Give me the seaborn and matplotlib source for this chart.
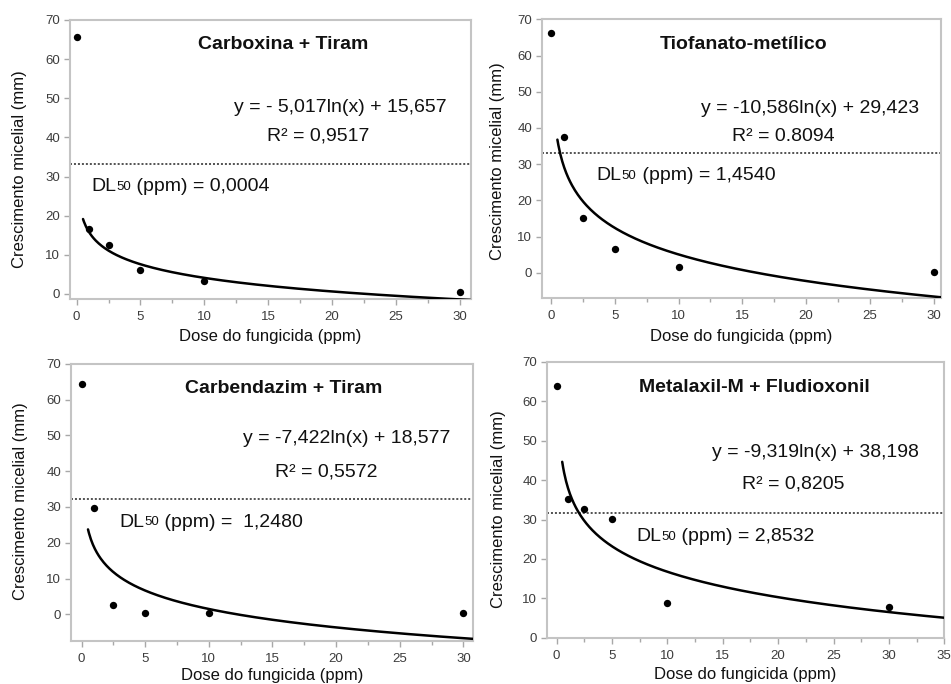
import numpy as np
import pandas as pd
import seaborn as sns
import matplotlib
matplotlib.use("Agg")
import matplotlib.pyplot as plt
from matplotlib.ticker import MultipleLocator

# ---------------- data ----------------
titles = ["Carboxina + Tiram", "Tiofanato-metílico",
          "Carbendazim + Tiram", "Metalaxil-M + Fludioxonil"]
doses = [0, 1, 2.5, 5, 10, 30]
growth_carboxina = [65.6, 16.5, 12.4, 6.0, 3.3, 0.4]
growth_tiofanato = [66.3, 37.4, 15.1, 6.5, 1.7, 0.2]
growth_carbendazim = [64.4, 29.7, 2.7, 0.3, 0.3, 0.3]
growth_metalaxil = [63.8, 35.1, 32.6, 30.1, 8.9, 7.9]
slopes = [-5.017, -10.586, -7.422, -9.319]
intercepts = [15.657, 29.423, 18.577, 38.198]
half_growth = [33.2, 33.1, 32.3, 31.7]
equations = ["y = - 5,017ln(x) + 15,657", "y = -10,586ln(x) + 29,423",
             "y = -7,422ln(x) + 18,577", "y = -9,319ln(x) + 38,198"]
r2_labels = ["R² = 0,9517", "R² = 0.8094", "R² = 0,5572", "R² = 0,8205"]
dl50_values = ["0,0004", "1,4540", " 1,2480", "2,8532"]
x_tick_max = [30, 30, 30, 35]
y_ticks = [0, 10, 20, 30, 40, 50, 60, 70]
xlabel = "Dose do fungicida (ppm)"
ylabel = "Crescimento micelial (mm)"

growths = [growth_carboxina, growth_tiofanato, growth_carbendazim, growth_metalaxil]

# ---------------- layout ----------------
W, H = 951, 684
sns.set_style("white")
plt.rcParams["font.family"] = ["Liberation Sans", "DejaVu Sans"]

fig = plt.figure(figsize=(W / 100, H / 100), dpi=100)

axes_px = [(70, 20, 471, 299), (541.7, 19.3, 940.7, 297.7),
           (70.7, 363.7, 473, 641), (546.7, 362, 944.3, 637.7)]
xlims = [(-0.52, 30.9), (-0.73, 30.55), (-0.86, 30.76), (-0.9, 35)]
ylims = [(-1.3, 70), (-6.9, 70), (-7.45, 70), (0, 70)]
title_pos = [(0.531, 0.912), (0.505, 0.908), (0.529, 0.912), (0.523, 0.906)]
eq_pos = [(0.673, 0.685), (0.672, 0.68), (0.686, 0.73), (0.675, 0.67)]
r2_pos = [(0.618, 0.584), (0.606, 0.578), (0.634, 0.609), (0.62, 0.559)]
dl_pos = [(0.054, 0.402), (0.138, 0.438), (0.121, 0.429), (0.225, 0.368)]
ylab_xy = [(-0.125, 0.466), (-0.11, 0.489), (-0.126, 0.505), (-0.122, 0.468)]
xlab_y = [-0.136, -0.14, -0.124, -0.135]

frame_col = "#c4c4c4"
tick_col = "#a8a8a8"
label_col = "#3c3c3c"
fs_text = 14

for i in range(4):
    l, t, r, b = axes_px[i]
    ax = fig.add_axes([l / W, 1 - b / H, (r - l) / W, (b - t) / H])

    df = pd.DataFrame({"dose": doses, "growth": growths[i]})
    sns.scatterplot(data=df, x="dose", y="growth", color="black", s=28,
                    edgecolor="black", linewidth=0, ax=ax, zorder=4)

    xc = np.linspace(0.5, xlims[i][1] + 0.5, 400)
    yc = slopes[i] * np.log(xc) + intercepts[i]
    sns.lineplot(x=xc, y=yc, color="black", linewidth=1.8, ax=ax,
                 sort=False, zorder=3)

    ax.axhline(half_growth[i], color="#444444", linestyle=(0, (1.1, 1.1)),
               linewidth=1.3, zorder=2)

    ax.set_xlim(*xlims[i])
    ax.set_ylim(*ylims[i])
    ax.set_xticks(list(range(0, x_tick_max[i] + 1, 5)))
    ax.set_yticks(y_ticks)
    ax.xaxis.set_minor_locator(MultipleLocator(2.5))

    for sp in ax.spines.values():
        sp.set_visible(True)
        sp.set_color(frame_col)
        sp.set_linewidth(1.5)

    ax.tick_params(axis="both", which="major", direction="out", length=4.5,
                   width=1, color=tick_col, labelcolor=label_col, labelsize=9.5,
                   bottom=True, left=True, pad=2.5)
    ax.tick_params(axis="x", which="major", pad=4)
    ax.tick_params(axis="x", which="minor", direction="out", length=3,
                   width=1, color=tick_col, bottom=True)

    ax.set_xlabel(xlabel, fontsize=12, color="#111111")
    ax.set_ylabel(ylabel, fontsize=12, color="#111111")
    ax.xaxis.set_label_coords(0.5, xlab_y[i])
    ax.xaxis.label.set_verticalalignment("center")
    ax.yaxis.set_label_coords(*ylab_xy[i])
    ax.yaxis.label.set_verticalalignment("center")

    ax.text(*title_pos[i], titles[i], transform=ax.transAxes, ha="center",
            va="center", fontsize=fs_text, fontweight="bold", color="#111111")
    ax.text(*eq_pos[i], equations[i], transform=ax.transAxes, ha="center",
            va="center", fontsize=fs_text, color="#111111")
    ax.text(*r2_pos[i], r2_labels[i], transform=ax.transAxes, ha="center",
            va="center", fontsize=fs_text, color="#111111")

    t1 = ax.text(*dl_pos[i], "DL", transform=ax.transAxes, ha="left",
                 va="center", fontsize=fs_text, color="#111111")
    t2 = ax.annotate("50", xy=(1, 0.12), xycoords=t1, ha="left", va="bottom",
                     fontsize=9.5, color="#111111")
    ax.annotate(" (ppm) = " + dl50_values[i], xy=(1, 0), xycoords=(t2, t1),
                ha="left", va="bottom", fontsize=fs_text, color="#111111")

fig.savefig("out.png", dpi=100)
